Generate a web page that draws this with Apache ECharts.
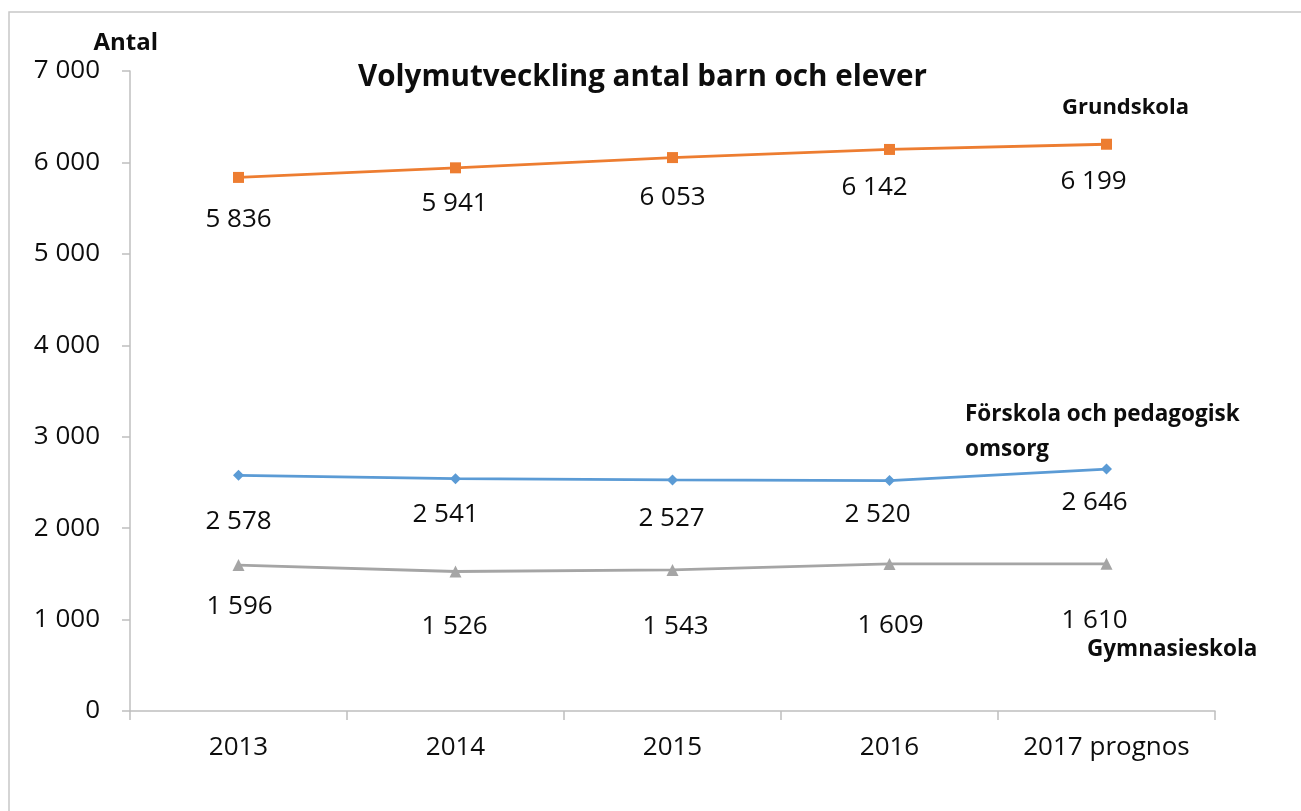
<!DOCTYPE html>
<html>
<head>
<meta charset="utf-8">
<script src="https://cdn.jsdelivr.net/npm/echarts@6/dist/echarts.min.js"></script>
<style>
html,body{margin:0;padding:0;background:#fff;}
#chart{width:1301px;height:811px;}
</style>
</head>
<body>
<div id="chart"></div>
<script>
// ---- data ----
const categories = ['2013', '2014', '2015', '2016', '2017 prognos'];
const grundskola = [5836, 5941, 6053, 6142, 6199];
const forskola = [2578, 2541, 2527, 2520, 2646];
const gymnasieskola = [1596, 1526, 1543, 1609, 1610];
const seriesNames = ['Grundskola', 'Förskola och pedagogisk omsorg', 'Gymnasieskola'];
const yTicks = { min: 0, max: 7000, interval: 1000 };

// ---- label placement (style, not data) ----
const grundOffsets = [[0, 42], [-1, 36], [0, 40], [-15, 38], [-13, 37]];
const forskOffsets = [[0, 46], [-10, 36], [-1, 39], [-12, 34], [-12, 34]];
const gymnOffsets = [[1, 42], [-1, 55], [3, 57], [1, 62], [-12, 57]];

const FONT = '"Open Sans", "Noto Sans", sans-serif';
const TEXT = '#0d0d0d';
const fmt = v => String(v).replace(/\B(?=(\d{3})+(?!\d))/g, ' ');

function withLabels(values, offsets) {
  return values.map((v, i) => ({
    value: v,
    label: { offset: offsets[i] }
  }));
}

function lineSeries(name, values, offsets, color, symbol, size) {
  return {
    name: name,
    type: 'line',
    data: withLabels(values, offsets),
    symbol: symbol,
    symbolSize: size,
    lineStyle: { color: color, width: 2.8 },
    itemStyle: { color: color },
    label: {
      show: true,
      position: 'inside',
      formatter: p => fmt(p.value),
      fontFamily: FONT,
      fontSize: 26,
      color: TEXT
    },
    emphasis: { disabled: true },
    animation: false
  };
}

const chart = echarts.init(document.getElementById('chart'));
chart.setOption({
  backgroundColor: '#ffffff',
  animation: false,
  title: {
    text: 'Volymutveckling antal barn och elever',
    left: 353,
    top: 58,
    textStyle: { fontFamily: FONT, fontSize: 29.6, fontWeight: 'bold', color: TEXT }
  },
  grid: { left: 130, right: 86, top: 71, bottom: 100, containLabel: false },
  xAxis: {
    type: 'category',
    data: categories,
    boundaryGap: true,
    axisLine: { lineStyle: { color: '#bfbfbf', width: 1.5 } },
    axisTick: { show: true, length: 9, lineStyle: { color: '#bfbfbf', width: 1.5 } },
    axisLabel: { fontFamily: FONT, fontSize: 26, color: TEXT, margin: 24 }
  },
  yAxis: {
    type: 'value',
    min: yTicks.min,
    max: yTicks.max,
    interval: yTicks.interval,
    name: 'Antal',
    nameLocation: 'end',
    nameGap: 16,
    nameTextStyle: { fontFamily: FONT, fontSize: 24, fontWeight: 'bold', color: TEXT, align: 'right', padding: [0, -28, 0, 0] },
    splitLine: { show: false },
    axisLine: { show: true, lineStyle: { color: '#bfbfbf', width: 1.5 } },
    axisTick: { show: true, length: 8, lineStyle: { color: '#bfbfbf', width: 1.5 } },
    axisLabel: { fontFamily: FONT, fontSize: 26, color: TEXT, margin: 30, formatter: v => fmt(v) }
  },
  graphic: [
    { type: 'polyline', shape: { points: [[9, 811], [9, 12], [1301, 12]] }, style: { stroke: '#c8c8c8', lineWidth: 1.5, fill: null }, silent: true },
    { type: 'text', left: 1062, top: 97, style: { text: seriesNames[0], font: 'bold 22px ' + FONT, fill: TEXT } },
    { type: 'text', left: 965, top: 397, style: { text: 'Förskola och pedagogisk\nomsorg', font: 'bold 22.5px ' + FONT, fill: TEXT, lineHeight: 35 } },
    { type: 'text', left: 1087, top: 638, style: { text: seriesNames[2], font: 'bold 22.5px ' + FONT, fill: TEXT } }
  ],
  series: [
    lineSeries(seriesNames[0], grundskola, grundOffsets, '#ED7D31', 'rect', 11),
    lineSeries(seriesNames[1], forskola, forskOffsets, '#5B9BD5', 'diamond', 11),
    lineSeries(seriesNames[2], gymnasieskola, gymnOffsets, '#A5A5A5', 'triangle', 12)
  ]
});
</script>
</body>
</html>
